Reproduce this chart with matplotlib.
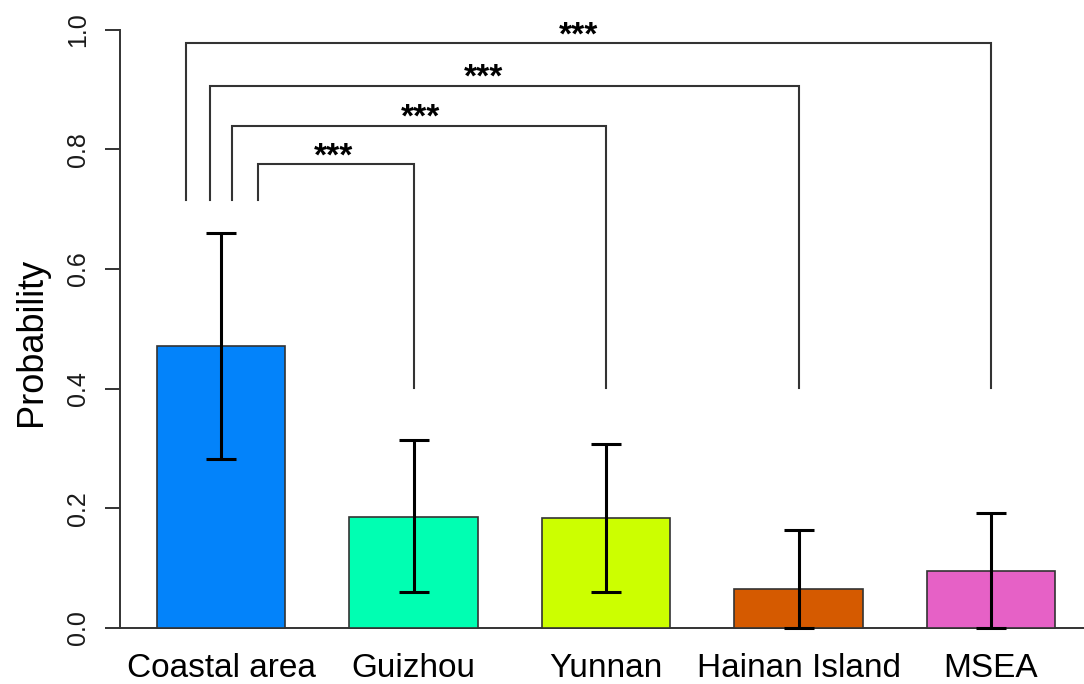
import matplotlib
matplotlib.use("Agg")
import matplotlib.pyplot as plt

plt.rcParams['font.family'] = ['Liberation Sans', 'DejaVu Sans']

# Data
regions = ["Coastal area", "Guizhou", "Yunnan", "Hainan Island", "MSEA"]
probability = [0.471, 0.186, 0.183, 0.065, 0.096]
ci_low = [0.282, 0.060, 0.060, 0.0, 0.0]
ci_high = [0.660, 0.314, 0.308, 0.163, 0.192]
bar_colors = ["#0383FA", "#00FFB2", "#CCFF00", "#D55A00", "#E661C6"]

# Significance brackets: Coastal area vs each other region
bracket_targets = [1, 2, 3, 4]
bracket_left_x = [0.192, 0.057, -0.057, -0.182]
bracket_top = [0.775, 0.839, 0.906, 0.977]
bracket_left_bottom = 0.715
bracket_right_bottom = 0.401
star_x = [0.582, 1.034, 1.366, 1.855]
star_text = ["***", "***", "***", "***"]

yticks = [0.0, 0.2, 0.4, 0.6, 0.8, 1.0]
ytick_labels = ["0.0", "0.2", "0.4", "0.6", "0.8", "1.0"]

W, H = 1084, 684
fig = plt.figure(figsize=(W / 100, H / 100), dpi=100)
ax = fig.add_axes([120 / W, (H - 640) / H, (W - 120) / W, 640 / H])

x = list(range(len(regions)))
ax.bar(x, probability, width=2 / 3, color=bar_colors, edgecolor="#333333",
       linewidth=1.2, zorder=2)

yerr = [[p - lo for p, lo in zip(probability, ci_low)],
        [hi - p for p, hi in zip(probability, ci_high)]]
ax.errorbar(x, probability, yerr=yerr, fmt="none", ecolor="black",
            elinewidth=2.2, capsize=11, capthick=2.2, zorder=3)

ax.axhline(0, color="#333333", linewidth=1.4, zorder=1)

for tgt, lx, top, sx, st in zip(bracket_targets, bracket_left_x, bracket_top,
                                 star_x, star_text):
    ax.plot([lx, lx, tgt, tgt],
            [bracket_left_bottom, top, top, bracket_right_bottom],
            color="#333333", linewidth=1.5, solid_joinstyle="miter",
            zorder=2, clip_on=False)
    ax.annotate(st, xy=(sx, top), xytext=(0, -0.8), textcoords="offset points",
                ha="center", va="baseline", fontsize=24, fontweight="bold",
                color="black")

for xi, name in zip(x, regions):
    ax.text(xi, -0.082, name, ha="center", va="baseline", fontsize=24,
            color="black", clip_on=False)

ax.set_xlim(-0.525, 4.483)
ax.set_ylim(-0.02005, 1.0493)
ax.set_xticks([])
ax.set_yticks(yticks)
ax.set_yticklabels(ytick_labels, rotation=90, va="center", fontsize=18,
                   color="#1a1a1a")
ax.tick_params(axis="y", length=10.8, width=1.4, color="#333333", pad=11)

for side in ["top", "right", "bottom"]:
    ax.spines[side].set_visible(False)
ax.spines["left"].set_bounds(0, 1)
ax.spines["left"].set_linewidth(1.4)
ax.spines["left"].set_color("#333333")

fig.text(32 / W, 1 - 341.5 / H, "Probability", rotation=90, ha="center",
         va="center", fontsize=26, color="black")

fig.savefig("out.png", dpi=100)
